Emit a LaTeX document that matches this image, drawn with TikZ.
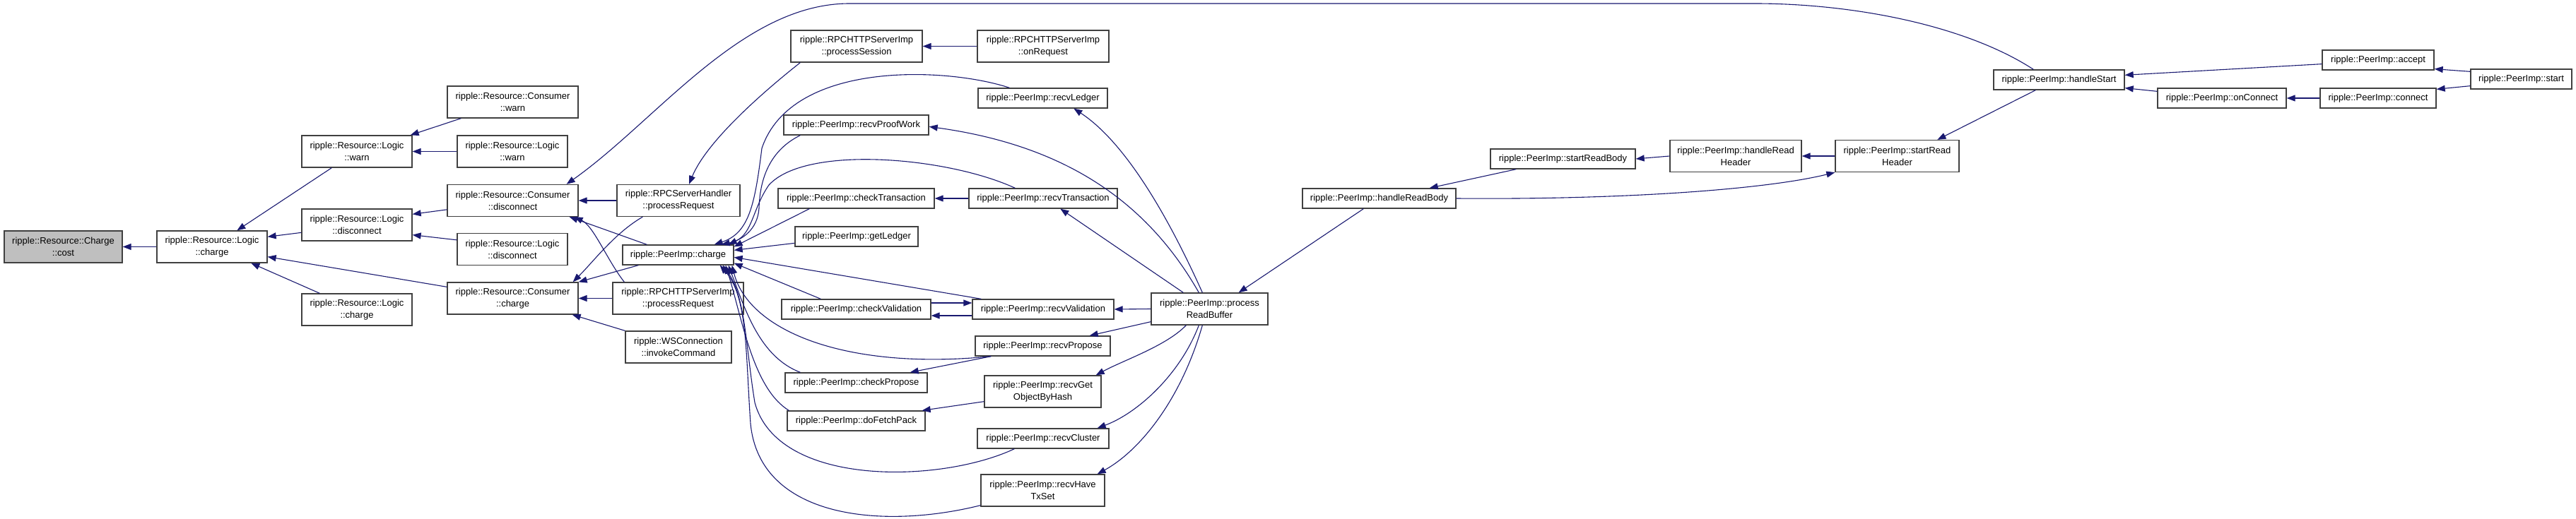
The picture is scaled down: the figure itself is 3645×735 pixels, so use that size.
\documentclass[tikz,border=0pt]{standalone}
\usepackage{fontspec}
\setmainfont{Liberation Sans}
\usetikzlibrary{arrows.meta}
\usepackage{xcolor}
\definecolor{dxNavy}{HTML}{191970}
\definecolor{dxGrey}{HTML}{BFBFBF}
\definecolor{dxLine}{HTML}{404040}

\begin{document}
\begin{tikzpicture}[x=1pt, y=-1pt,
  fn/.style={draw=dxLine, line width=1.3pt, fill=white, minimum height=28pt, inner sep=0pt, align=center, font=\fontsize{13pt}{17pt}\selectfont},
  fn2/.style={fn, minimum height=45pt},
  call/.style={-{Triangle[length=12pt, width=9pt]}, line width=1.1pt, dxNavy}]
\useasboundingbox (0,0) rectangle (3645,735);
\node[fn2, fill=dxGrey, minimum width=167pt] (cost) at (89.5,349.5) {ripple::Resource::Charge\\::cost};
\node[fn2, minimum width=156pt] (lc) at (300,349.5) {ripple::Resource::Logic\\::charge};
\node[fn2, minimum width=156pt] (lw1) at (505,214.5) {ripple::Resource::Logic\\::warn};
\node[fn2, minimum width=156pt] (ld1) at (505,318.5) {ripple::Resource::Logic\\::disconnect};
\node[fn2, minimum width=156pt] (lc2) at (505,438.5) {ripple::Resource::Logic\\::charge};
\node[fn2, minimum width=185pt] (cw) at (725.5,144.5) {ripple::Resource::Consumer\\::warn};
\node[fn2, minimum width=156pt] (lw2) at (725,214.5) {ripple::Resource::Logic\\::warn};
\node[fn2, minimum width=185pt] (cd) at (725.5,284) {ripple::Resource::Consumer\\::disconnect};
\node[fn2, minimum width=156pt] (ld2) at (725,353) {ripple::Resource::Logic\\::disconnect};
\node[fn2, minimum width=185pt] (cc) at (725.5,422.5) {ripple::Resource::Consumer\\::charge};
\node[fn2, minimum width=174pt] (rph) at (960,284) {ripple::RPCServerHandler\\::processRequest};
\node[fn, minimum width=157pt] (pc) at (959.5,361) {ripple::PeerImp::charge};
\node[fn2, minimum width=185pt] (rhp) at (959.5,422.5) {ripple::RPCHTTPServerImp\\::processRequest};
\node[fn2, minimum width=150pt] (ws) at (960,491.5) {ripple::WSConnection\\::invokeCommand};
\node[fn2, minimum width=186pt] (rps) at (1212,65.5) {ripple::RPCHTTPServerImp\\::processSession};
\node[fn2, minimum width=186pt] (rpo) at (1476,65.5) {ripple::RPCHTTPServerImp\\::onRequest};
\node[fn, minimum width=183pt] (rl) at (1475.5,139) {ripple::PeerImp::recvLedger};
\node[fn, minimum width=205pt] (rpw) at (1211.5,177) {ripple::PeerImp::recvProofWork};
\node[fn, minimum width=221pt] (ct) at (1211.5,281) {ripple::PeerImp::checkTransaction};
\node[fn, minimum width=210pt] (rt) at (1476,281) {ripple::PeerImp::recvTransaction};
\node[fn, minimum width=174pt] (gl) at (1212,335) {ripple::PeerImp::getLedger};
\node[fn, minimum width=211pt] (cv) at (1211.5,438) {ripple::PeerImp::checkValidation};
\node[fn, minimum width=200pt] (rv) at (1476,438) {ripple::PeerImp::recvValidation};
\node[fn2, minimum width=165pt] (prb) at (1711.5,437.5) {ripple::PeerImp::process\\ReadBuffer};
\node[fn, minimum width=191pt] (rp) at (1475.5,490) {ripple::PeerImp::recvPropose};
\node[fn, minimum width=201pt] (cp) at (1211.5,542) {ripple::PeerImp::checkPropose};
\node[fn2, minimum width=165pt] (rg) at (1475.5,554.5) {ripple::PeerImp::recvGet\\ObjectByHash};
\node[fn, minimum width=195pt] (df) at (1211.5,596) {ripple::PeerImp::doFetchPack};
\node[fn, minimum width=186pt] (rc) at (1476,621) {ripple::PeerImp::recvCluster};
\node[fn2, minimum width=175pt] (rh) at (1475.5,694.5) {ripple::PeerImp::recvHave\\TxSet};
\node[fn, minimum width=217pt] (hrb) at (1951.5,281) {ripple::PeerImp::handleReadBody};
\node[fn, minimum width=205pt] (srb) at (2211.5,225) {ripple::PeerImp::startReadBody};
\node[fn2, minimum width=186pt] (hrh) at (2456,221) {ripple::PeerImp::handleRead\\Header};
\node[fn2, minimum width=175pt] (srh) at (2684.5,221) {ripple::PeerImp::startRead\\Header};
\node[fn, minimum width=185pt] (hs) at (2913.5,113) {ripple::PeerImp::handleStart};
\node[fn, minimum width=158pt] (ac) at (3365,85) {ripple::PeerImp::accept};
\node[fn, minimum width=182pt] (oc) at (3144,139) {ripple::PeerImp::onConnect};
\node[fn, minimum width=164pt] (cn) at (3365,139) {ripple::PeerImp::connect};
\node[fn, minimum width=143pt] (st) at (3567.5,112) {ripple::PeerImp::start};
\draw[call] (lc.west) -- (cost.east);
\draw[call] ([shift={(43,0)}]lw1.south west) -- ([shift={(114,0)}]lc.north west);
\draw[call] ([shift={(0,34)}]ld1.north west) -- ([shift={(0,9)}]lc.north east);
\draw[call] ([shift={(0,7)}]cc.north west) -- ([shift={(0,-9)}]lc.south east);
\draw[call] ([shift={(26,0)}]lc2.north west) -- ([shift={(134,0)}]lc.south west);
\draw[call] ([shift={(20,0)}]cw.south west) -- ([shift={(-3,0)}]lw1.north east);
\draw[call] (lw2.west) -- (lw1.east);
\draw[call] ([shift={(0,36)}]cd.north west) -- ([shift={(0,8)}]ld1.north east);
\draw[call] ([shift={(0,10)}]ld2.north west) -- ([shift={(0,-9)}]ld1.south east);
\draw[call] ([shift={(57,0)}]hs.north west) .. controls (2780,35) and (2620,5) .. (2483,5) -- (1202,5) .. controls (1050,5) and (930,170) .. ([shift={(-17,0)}]cd.north east);
\draw[call] (rph.west) -- (cd.east);
\draw[call] ([shift={(35,0)}]pc.north west) -- ([shift={(-13,0)}]cd.south east);
\draw[call] ([shift={(17,0)}]rhp.north west) .. controls (860,370) and (840,320) .. ([shift={(-6,0)}]cd.south east);
\draw[call] ([shift={(37,0)}]rph.south west) .. controls (870,330) and (840,370) .. ([shift={(-8,0)}]cc.north east);
\draw[call] ([shift={(23,0)}]pc.south west) -- (cc.north east);
\draw[call] (rhp.west) -- (cc.east);
\draw[call] (ws.north west) -- ([shift={(-9,0)}]cc.south east);
\draw[call] ([shift={(14,0)}]rps.south west) .. controls (1080,130) and (1000,200) .. ([shift={(15,0)}]rph.north);
\draw[call] (rpo.west) -- (rps.east);
\draw[call] ([shift={(45,0)}]rl.north west) .. controls (1340,95) and (1120,85) .. (1078,210) .. controls (1068,290) and (1060,330) .. ([shift={(-28,0)}]pc.north east);
\draw[call] ([shift={(24,0)}]rpw.south west) .. controls (1085,215) and (1075,260) .. (1074,295) .. controls (1072,325) and (1050,340) .. ([shift={(-18,0)}]pc.north east);
\draw[call] ([shift={(66,0)}]rt.north west) .. controls (1340,222) and (1140,205) .. (1088,262) .. controls (1065,295) and (1065,330) .. ([shift={(-8,0)}]pc.north east);
\draw[call] ([shift={(45,0)}]ct.south west) -- ([shift={(0,3)}]pc.north east);
\draw[call] ([shift={(0,24)}]gl.north west) -- ([shift={(0,8)}]pc.north east);
\draw[call] ([shift={(13,0)}]rv.north west) -- ([shift={(0,18)}]pc.north east);
\draw[call] ([shift={(56,0)}]cv.north west) -- ([shift={(0,-3)}]pc.south east);
\draw[call] ([shift={(23,0)}]rp.south west) .. controls (1200,525) and (1060,470) .. ([shift={(-3,0)}]pc.south east);
\draw[call] ([shift={(22,0)}]cp.north west) .. controls (1075,505) and (1055,440) .. ([shift={(-8,0)}]pc.south east);
\draw[call] ([shift={(3,0)}]df.north west) .. controls (1065,550) and (1050,450) .. ([shift={(-12,0)}]pc.south east);
\draw[call] ([shift={(53,0)}]rc.south west) .. controls (1330,685) and (1100,690) .. (1068,570) .. controls (1055,490) and (1055,420) .. ([shift={(-16,0)}]pc.south east);
\draw[call] ([shift={(0,-2)}]rh.south west) .. controls (1250,750) and (1075,735) .. (1062,600) .. controls (1055,500) and (1058,420) .. ([shift={(-20,0)}]pc.south east);
\draw[call] (rt.west) -- (ct.east);
\draw[call] ([shift={(73,0)}]prb.north west) .. controls (1650,300) and (1590,200) .. ([shift={(136,0)}]rl.south west);
\draw[call] ([shift={(68,0)}]prb.north west) .. controls (1620,280) and (1500,205) .. ([shift={(0,17)}]rpw.north east);
\draw[call] ([shift={(46,0)}]prb.north west) -- ([shift={(130,0)}]rt.south west);
\draw[call] (prb.west) -- (rv.east);
\draw[call] ([shift={(0,-9)}]cv.east) -- ([shift={(0,-9)}]rv.west);
\draw[call] ([shift={(0,9)}]rv.west) -- ([shift={(0,9)}]cv.east);
\draw[call] ([shift={(0,-5)}]prb.south west) -- ([shift={(-30,0)}]rp.north east);
\draw[call] ([shift={(23,0)}]rp.south west) -- ([shift={(-25,0)}]cp.north east);
\draw[call] ([shift={(50,0)}]prb.south west) .. controls (1650,490) and (1590,510) .. ([shift={(-8,0)}]rg.north east);
\draw[call] ([shift={(0,-9)}]rg.south west) -- ([shift={(-5,0)}]df.north east);
\draw[call] ([shift={(68,0)}]prb.south west) .. controls (1670,530) and (1610,585) .. ([shift={(-17,0)}]rc.north east);
\draw[call] ([shift={(73,0)}]prb.south west) .. controls (1670,570) and (1610,640) .. ([shift={(-11,0)}]rh.north east);
\draw[call] ([shift={(87,0)}]hrb.south west) -- ([shift={(-42,0)}]prb.north east);
\draw[call] ([shift={(37,0)}]srb.south west) -- ([shift={(-38,0)}]hrb.north east);
\draw[call] (hrb.east) .. controls (2300,283) and (2500,268) .. (srh.south west);
\draw[call] (hrh.west) -- (srb.east);
\draw[call] (srh.west) -- (hrh.east);
\draw[call] ([shift={(60,0)}]hs.south west) -- ([shift={(145,0)}]srh.north west);
\draw[call] ([shift={(0,-9)}]ac.south west) -- ([shift={(0,8)}]hs.north east);
\draw[call] ([shift={(0,5)}]oc.north west) -- ([shift={(0,-3)}]hs.south east);
\draw[call] (cn.west) -- (oc.east);
\draw[call] ([shift={(0,4)}]st.north west) -- ([shift={(0,-2)}]ac.south east);
\draw[call] ([shift={(0,-5)}]st.south west) -- ([shift={(0,2)}]cn.north east);
\end{tikzpicture}
\end{document}
